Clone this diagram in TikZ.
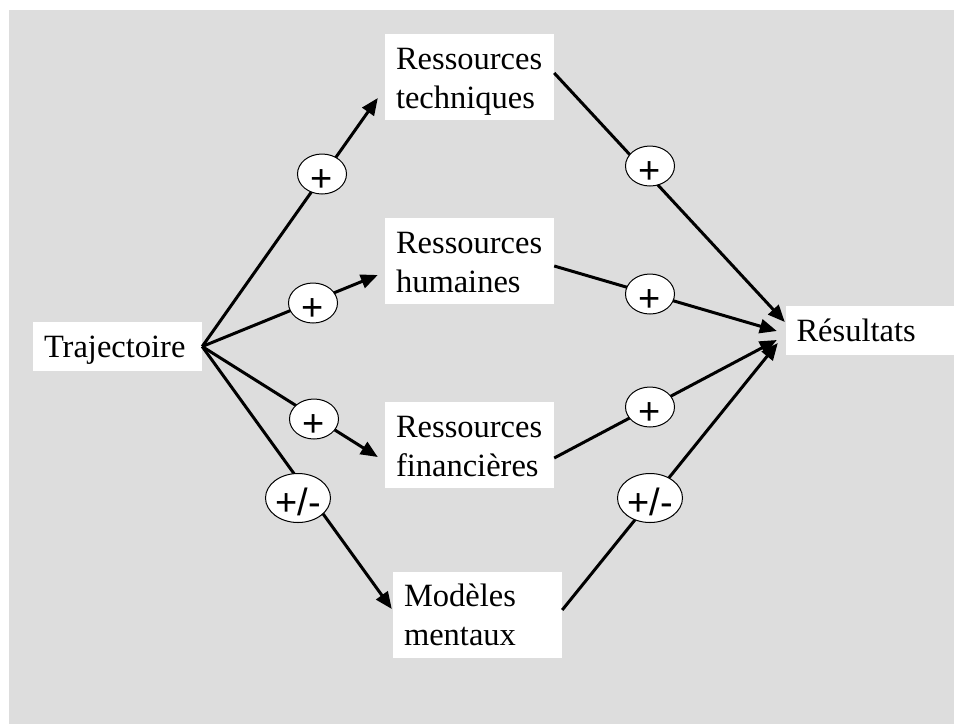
\documentclass[tikz,border=0pt]{standalone}
\usepackage{fontspec}
\setmainfont{Liberation Serif}
\newfontfamily\labelfont{Liberation Sans}
\usetikzlibrary{arrows.meta,shapes.geometric,calc}
\definecolor{panel}{HTML}{DDDDDD}
% sign text, lowered a little inside its ellipse
\newcommand{\signtext}[1]{\raisebox{-17pt}{#1}}
\tikzset{
  box/.style={rectangle, fill=white, draw=none, align=left,
    inner xsep=11pt, inner ysep=0pt,
    minimum width=169pt, text width=147pt,
    font=\fontsize{32.5}{39}\selectfont},
  tallbox/.style={box, text height=35pt, text depth=51pt},
  flatbox/.style={box, text height=35pt, text depth=14pt},
  sign/.style={ellipse, draw=black, line width=1pt, fill=white, inner sep=0pt,
    minimum width=49pt, minimum height=40pt,
    text height=0pt, text depth=0pt,
    font=\labelfont\fontsize{38}{38}\selectfont},
  widesign/.style={sign, minimum width=65pt, minimum height=49pt},
  arr/.style={line width=3pt, -{Triangle[length=17pt,width=14pt]}},
}
\begin{document}
\begin{tikzpicture}[x=1pt,y=-1pt]
  % canvas and grey panel
  \useasboundingbox (0,0) rectangle (954,724);
  \fill[white] (0,0) rectangle (954,724);
  \fill[panel] (9,10) rectangle (954,724);

  % boxes
  \node[flatbox] (traj) at (117.5,346.5) {Trajectoire};
  \node[tallbox] (tech) at (469.5,77) {Ressources\\techniques};
  \node[tallbox] (hum)  at (469.5,261) {Ressources\\humaines};
  \node[tallbox] (fin)  at (469.5,445) {Ressources\\financières};
  \node[tallbox] (mod)  at (477.5,614.5) {Modèles\\mentaux};
  \node[flatbox, minimum width=168pt, inner xsep=10pt] (res) at (870,330.5) {Résultats};

  % influences of the trajectory
  \draw[arr] (traj.east) -- ($(tech.west)+(-7,21)$);
  \draw[arr] (traj.east) -- ($(hum.west)+(-7,14)$);
  \draw[arr] (traj.east) -- ($(fin.west)+(-7,12)$);
  \draw[arr] (traj.east) -- ($(mod.west)+(-1,-5.5)$);

  % influences on the results
  \draw[arr] ($(tech.east)+(0,-4)$) -- ($(res.west)+(-1,-8.5)$);
  \draw[arr] ($(hum.east)+(0,5)$) -- ($(res.west)+(-9,0.5)$);
  \draw[arr] ($(fin.east)+(0,13)$) -- ($(res.west)+(-9,9.5)$);
  \draw[arr] ($(mod.east)+(0,-4.5)$) -- ($(res.west)+(-8,12.5)$);

  % signs of the influences
  \node[sign] (s1) at (322,174) {\signtext{+}};
  \node[sign] (s2) at (313,303) {\signtext{+}};
  \node[sign] (s3) at (314,419) {\signtext{+}};
  \node[widesign] (s4) at (298,498) {\signtext{+/-}};
  \node[sign] (s5) at (650,166) {\signtext{+}};
  \node[sign] (s6) at (650,294) {\signtext{+}};
  \node[sign] (s7) at (650,407) {\signtext{+}};
  \node[widesign] (s8) at (650,498) {\signtext{+/-}};
\end{tikzpicture}
\end{document}
